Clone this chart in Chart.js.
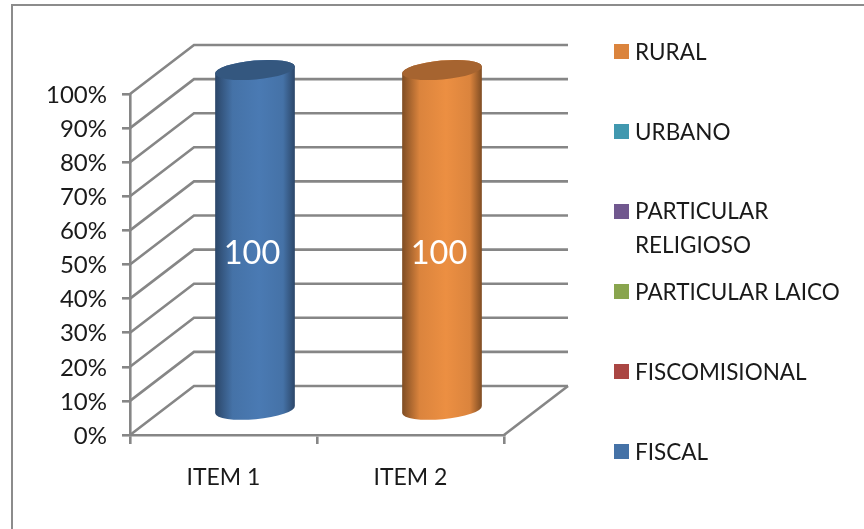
<!DOCTYPE html>
<html><head><meta charset="utf-8">
<style>html,body{margin:0;padding:0;background:#fff}#w{position:relative;width:864px;height:529px}canvas{display:block}</style>
<script src="https://cdn.jsdelivr.net/npm/chart.js@4"></script></head>
<body><div id="w"><canvas id="c" width="864" height="529"></canvas></div>
<script>
const categories = ['ITEM 1', 'ITEM 2'];
const fiscal = [100, 0];
const fiscomisional = [0, 0];
const particularLaico = [0, 0];
const particularReligioso = [0, 0];
const urbano = [0, 0];
const rural = [0, 100];
const seriesNames = ['FISCAL', 'FISCOMISIONAL', 'PARTICULAR LAICO', 'PARTICULAR RELIGIOSO', 'URBANO', 'RURAL'];
const seriesValues = [fiscal, fiscomisional, particularLaico, particularReligioso, urbano, rural];
const seriesColors = ['#4572A7', '#AA4643', '#89A54E', '#71588F', '#4198AF', '#DB843D'];
const edgeColors = ['#2B4668', '#6A2B2A', '#556730', '#463759', '#28606D', '#7E4C23'];
const midColors = ['#4A7AB3', '#B84C49', '#93B154', '#795F9A', '#46A3BB', '#EC8F42'];
const capColors = ['#34577F', '#813533', '#68803B', '#56436D', '#317485', '#A66430'];

const GRID = '#868686', TXT = '#1a1a1a', FONT = 'Lato, Carlito, sans-serif';
const DX = 64, DY = -49, BARDX = 32, BARDY = -24;

function line(ctx, pts, w, col) {
  ctx.beginPath(); pts.forEach((p, i) => i ? ctx.lineTo(p[0], p[1]) : ctx.moveTo(p[0], p[1]));
  ctx.lineWidth = w; ctx.strokeStyle = col; ctx.lineJoin = 'miter'; ctx.stroke();
}
const walls = { id: 'walls', beforeDatasetsDraw(ch) {
  const c = ch.ctx, x = ch.scales.x, y = ch.scales.y;
  c.save();
  const L = x.left, R = x.right;
  y.ticks.forEach(t => { const p = y.getPixelForValue(t.value);
    line(c, [[L, p], [L + DX, p + DY], [R + DX, p + DY]], 2.6, GRID); });
  const b = y.getPixelForValue(0);
  line(c, [[R, b], [R + DX, b + DY]], 2.6, GRID);
  c.restore();
}};
const cylinders = { id: 'cylinders', beforeDatasetDraw(ch, args) {
  const i = args.index, meta = args.meta, c = ch.ctx;
  meta.data.forEach((el, k) => {
    if (!seriesValues[i][k]) return;
    const rx = 40, ry = 9.5, rot = -0.09;
    const cx = el.x + BARDX - 0.5, top = el.y + BARDY, bot = el.base + BARDY;
    const g = c.createLinearGradient(cx - rx, 0, cx + rx, 0);
    g.addColorStop(0, edgeColors[i]); g.addColorStop(0.22, seriesColors[i]);
    g.addColorStop(0.55, midColors[i]); g.addColorStop(0.85, seriesColors[i]);
    g.addColorStop(1, edgeColors[i]);
    c.save();
    c.beginPath();
    c.ellipse(cx, top, rx, ry, rot, Math.PI, 0, false);
    c.ellipse(cx, bot, rx, ry, rot, 0, Math.PI, false);
    c.closePath(); c.fillStyle = g; c.fill();
    c.beginPath(); c.ellipse(cx, top, rx, ry, rot, 0, Math.PI * 2);
    c.fillStyle = capColors[i]; c.fill();
    c.font = '32.5px ' + FONT; c.fillStyle = '#fff'; c.textAlign = 'center'; c.textBaseline = 'middle';
    c.fillText(String(seriesValues[i][k]), cx - 3, (el.y + el.base) / 2 + BARDY + 14);
    c.restore();
  });
  return false;
}};
const sideLegend = { id: 'sideLegend', afterDraw(ch) {
  const c = ch.ctx; c.save();
  c.font = '22.5px ' + FONT; c.textBaseline = 'middle'; c.textAlign = 'left';
  const order = [5, 4, 3, 2, 1, 0];
  order.forEach((s, n) => {
    const by = 44 + n * 80;
    c.fillStyle = seriesColors[s]; c.fillRect(614, by, 15, 15);
    c.fillStyle = TXT;
    const name = seriesNames[s];
    if (name === 'PARTICULAR RELIGIOSO') {
      const parts = name.split(' ');
      c.fillText(parts[0], 635, by + 8); c.fillText(parts[1], 635, by + 42);
    } else c.fillText(name, 635, by + 9);
  });
  c.restore();
}};
const frame = { id: 'frame', beforeDraw(ch) {
  const c = ch.ctx; c.save();
  line(c, [[12, 529], [12, 5], [864, 5]], 2, '#8c8c8c');
  c.restore();
}};
new Chart(document.getElementById('c'), {
  type: 'bar',
  data: { labels: categories, datasets: seriesNames.map((n, i) => ({ label: n, data: seriesValues[i], backgroundColor: seriesColors[i], barPercentage: 0.85, categoryPercentage: 1 })) },
  plugins: [frame, walls, cylinders, sideLegend],
  options: {
    responsive: false, animation: false, devicePixelRatio: 1,
    layout: { padding: { left: 0, right: 360, top: 94, bottom: 0 } },
    plugins: { legend: { display: false }, title: { display: false }, tooltip: { enabled: false } },
    scales: {
      x: { stacked: true,
        afterFit(s) { s.height = 94; },
        grid: { drawOnChartArea: false, color: GRID, lineWidth: 2.6, tickLength: 9, tickColor: GRID },
        border: { color: GRID, width: 2.6 },
        ticks: { color: TXT, font: { family: FONT, size: 23 }, padding: 20, maxRotation: 0 } },
      y: { stacked: true, min: 0, max: 100,
        afterFit(s) { s.width = 130; },
        grid: { drawOnChartArea: false, color: GRID, lineWidth: 2.6, tickLength: 8, tickColor: GRID },
        border: { color: GRID, width: 2.6 },
        ticks: { stepSize: 10, color: TXT, font: { family: FONT, size: 24 }, padding: 15, labelOffset: 1, callback: v => v + '%' } }
    }
  }
});
</script></body></html>
